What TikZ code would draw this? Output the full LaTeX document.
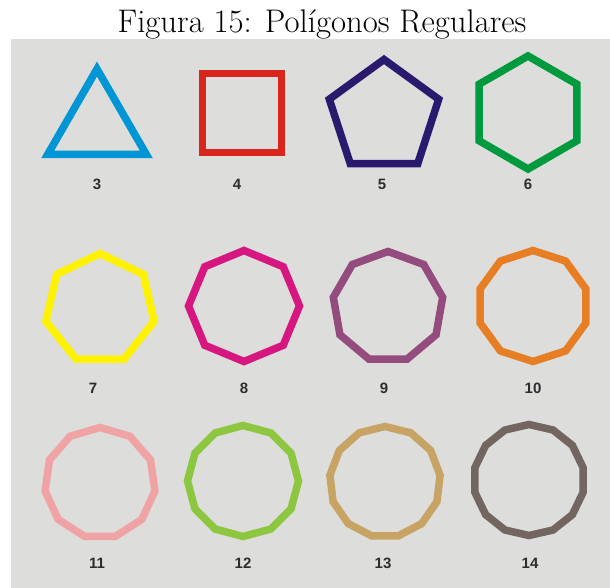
\documentclass[tikz,border=0pt]{standalone}
\usepackage{fontspec}
\newfontfamily\numfont{Liberation Sans}
\usetikzlibrary{shapes.geometric}
\definecolor{bgcol}{RGB}{221,221,219}
\definecolor{numcol}{RGB}{45,45,45}
\definecolor{tricol}{RGB}{0,150,214}
\definecolor{sqcol}{RGB}{217,38,28}
\definecolor{pentcol}{RGB}{42,26,110}
\definecolor{hexcol}{RGB}{0,154,62}
\definecolor{heptcol}{RGB}{255,242,0}
\definecolor{octcol}{RGB}{214,23,127}
\definecolor{nonacol}{RGB}{148,75,126}
\definecolor{decacol}{RGB}{232,126,35}
\definecolor{hendcol}{RGB}{240,163,165}
\definecolor{dodecol}{RGB}{141,198,63}
\definecolor{tridcol}{RGB}{200,164,100}
\definecolor{tetdcol}{RGB}{115,101,95}

\begin{document}
\begin{tikzpicture}[
    x=1pt, y=-1pt,
    poly/.style={regular polygon, line width=7.5pt, inner sep=0pt, minimum size=111pt},
    num/.style={font=\numfont\bfseries\fontsize{15}{15}\selectfont, text=numcol}
  ]

  \useasboundingbox (0,0) rectangle (610,588);

  % --- caption and panel ------------------------------------------------
  \node[anchor=base, font=\fontsize{32.7}{38}\selectfont] (Caption) at (322,32.5) {Figura 15: Polígonos Regulares};
  \fill[bgcol] (11,39) rectangle (610,588);

  % --- first row ---------------------------------------------------------
  \node[poly, draw=tricol, regular polygon sides=3, minimum size=114pt] (Tri) at (97,126) {};
  \node[poly, draw=sqcol, regular polygon sides=4, minimum size=112pt] (Sq) at (242,113) {};
  \node[poly, draw=pentcol, regular polygon sides=5, minimum size=115pt] (Pent) at (384,117) {};
  \node[poly, draw=hexcol, regular polygon sides=6, shape border rotate=30, minimum size=113pt] (Hex) at (528,112.5) {};

  \node[num] (NTri)  at (97,184)  {3};
  \node[num] (NSq)   at (237,184) {4};
  \node[num] (NPent) at (382,184) {5};
  \node[num] (NHex)  at (528,184) {6};

  % --- second row --------------------------------------------------------
  \node[poly, draw=heptcol, regular polygon sides=7] (Hept) at (100,309) {};
  \node[poly, draw=octcol, regular polygon sides=8, shape border rotate=22.5] (Oct) at (244,306) {};
  \node[poly, draw=nonacol, regular polygon sides=9] (Nona) at (388,307) {};
  \node[poly, draw=decacol, regular polygon sides=10, shape border rotate=18] (Deca) at (533,306) {};

  \node[num] (NHept) at (93,388)  {7};
  \node[num] (NOct)  at (244,388) {8};
  \node[num] (NNona) at (384,388) {9};
  \node[num] (NDeca) at (533,388) {10};

  % --- third row ---------------------------------------------------------
  \node[poly, draw=hendcol, regular polygon sides=11] (Hend) at (100,483) {};
  \node[poly, draw=dodecol, regular polygon sides=12, shape border rotate=15] (Dode) at (243,481) {};
  \node[poly, draw=tridcol, regular polygon sides=13] (Trid) at (385,482) {};
  \node[poly, draw=tetdcol, regular polygon sides=14, shape border rotate=12.857] (Tetd) at (529,480) {};

  \node[num] (NHend) at (97,563)  {11};
  \node[num] (NDode) at (243,563) {12};
  \node[num] (NTrid) at (383,563) {13};
  \node[num] (NTetd) at (530,563) {14};

\end{tikzpicture}
\end{document}
